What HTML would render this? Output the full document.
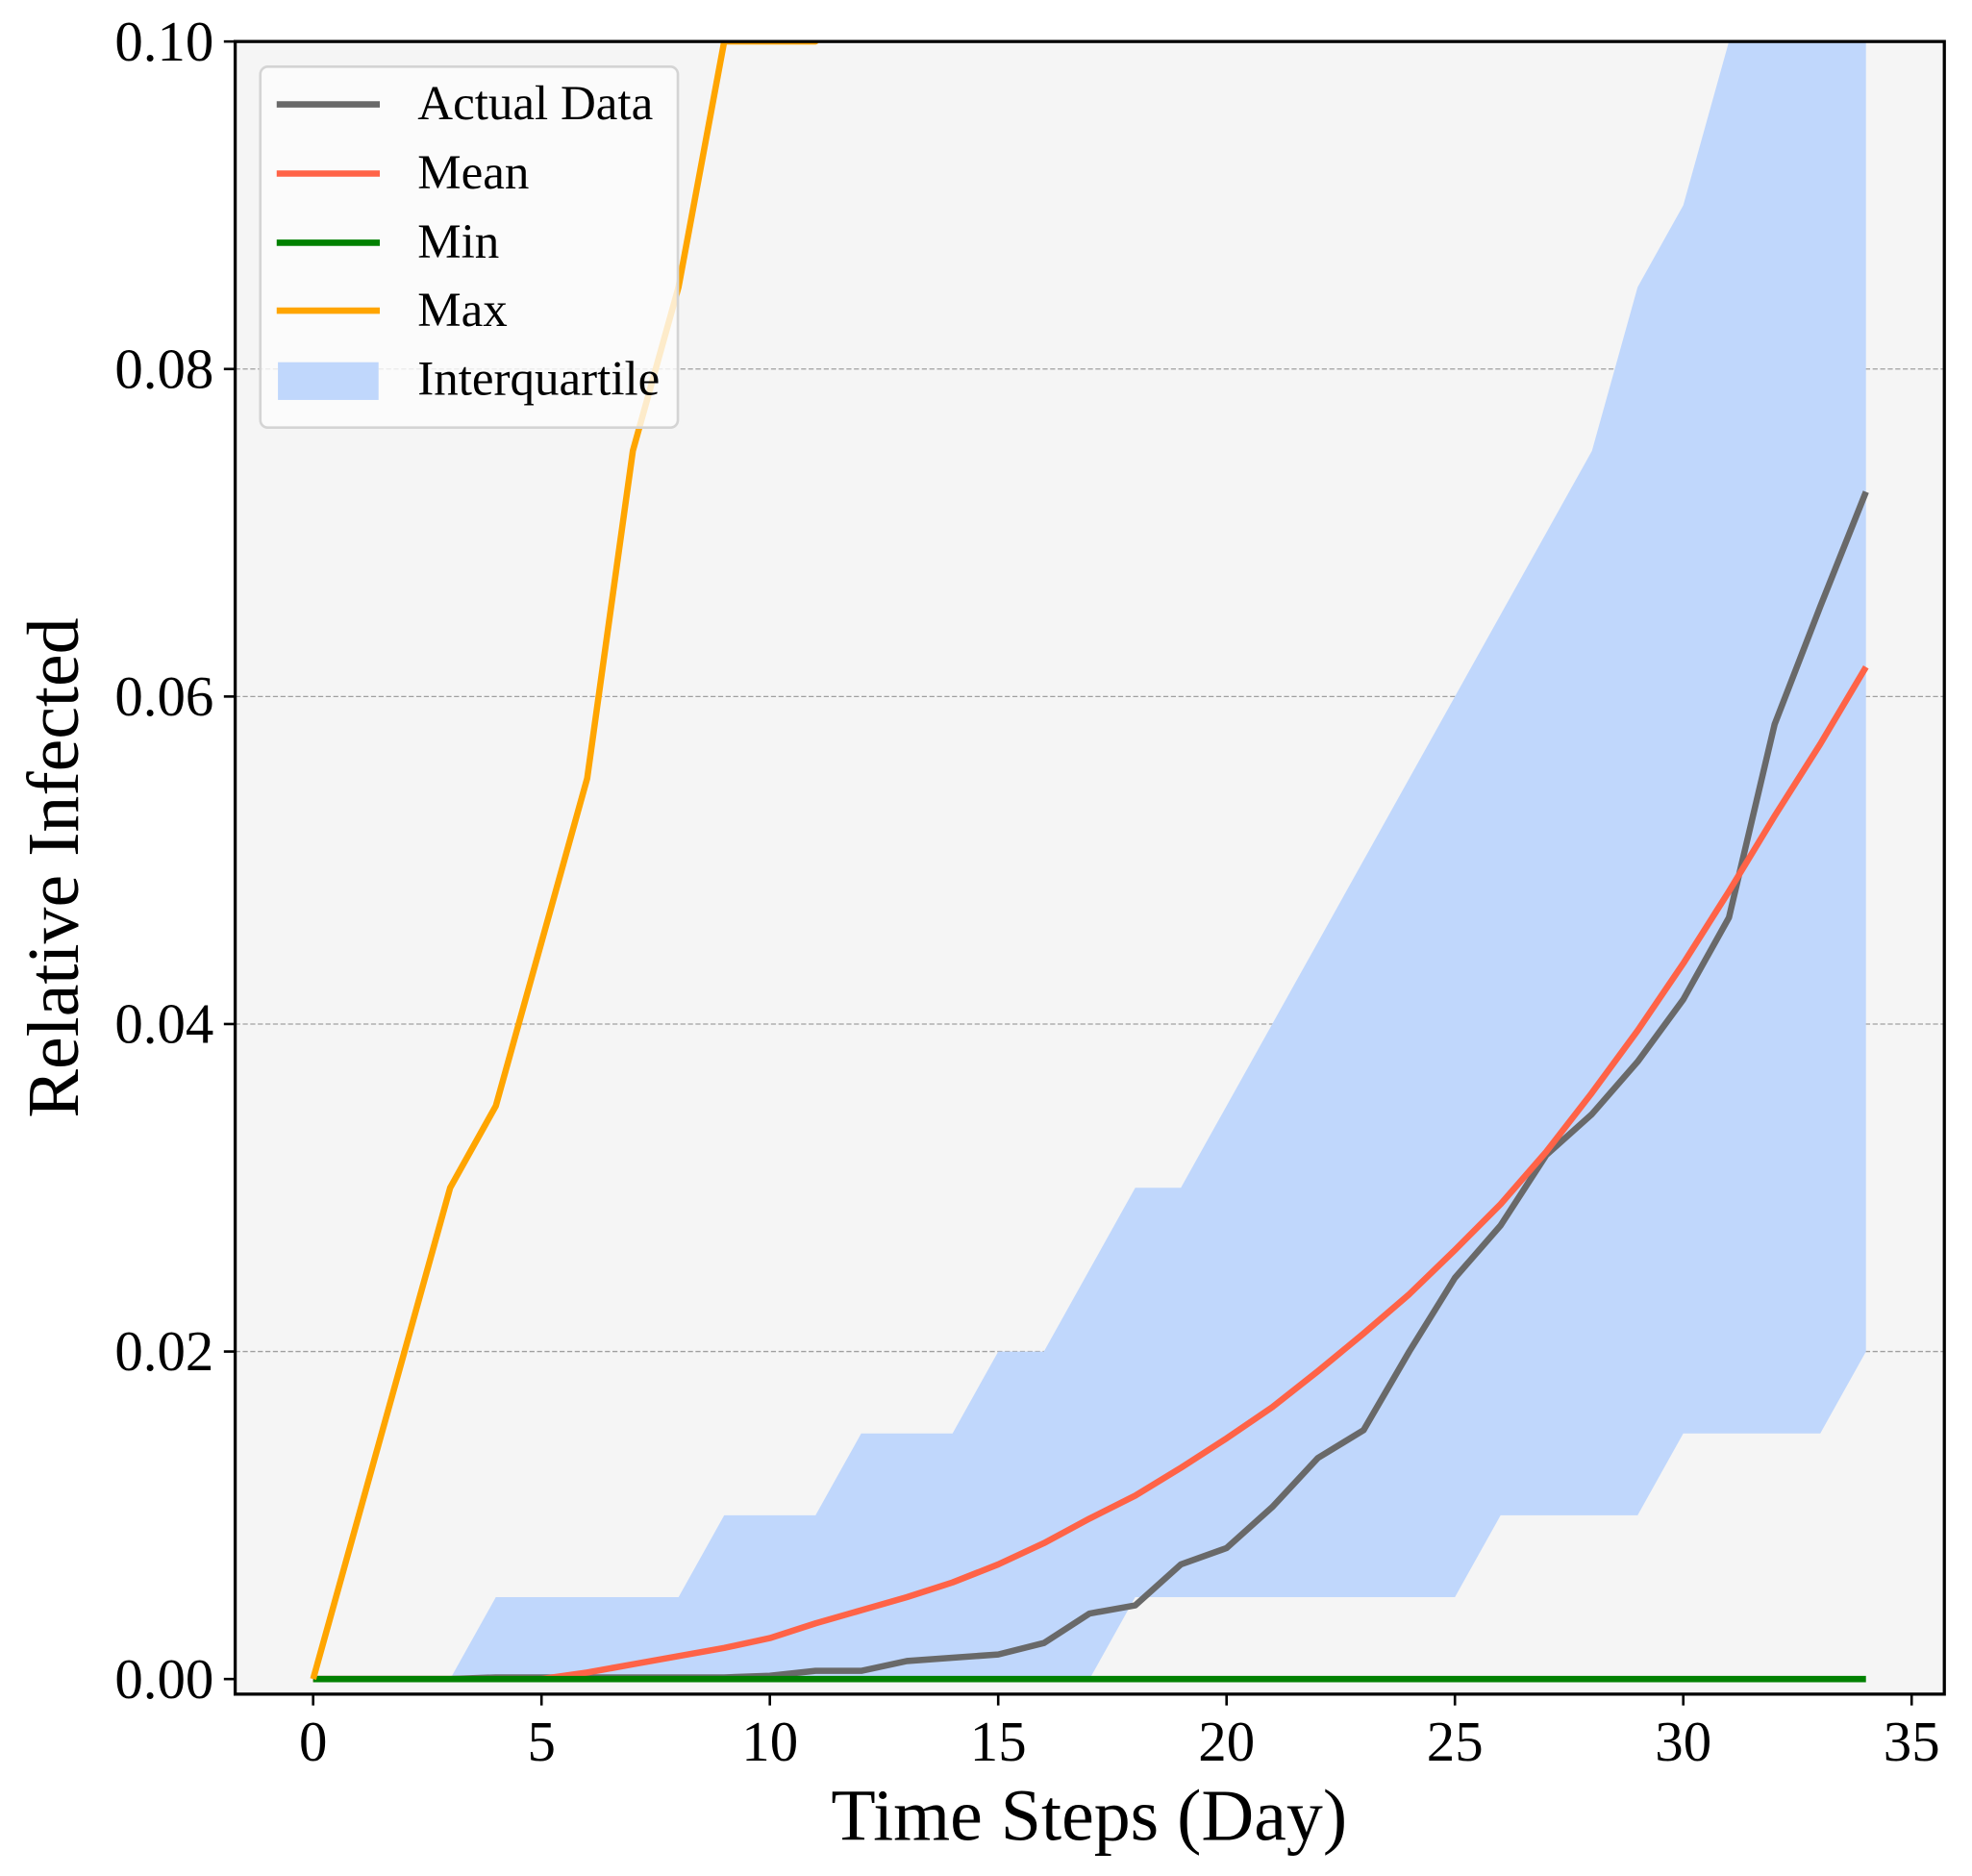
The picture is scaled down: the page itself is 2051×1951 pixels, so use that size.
<!DOCTYPE html>
<html><head><meta charset="utf-8"><style>
html,body{margin:0;padding:0;background:#fff;}
svg{display:block;font-family:"Liberation Serif","DejaVu Serif",serif;}
</style></head><body>
<svg id="chart" width="2051" height="1951" viewBox="0 0 1568 1491.6" preserveAspectRatio="none" xmlns="http://www.w3.org/2000/svg">
<defs><clipPath id="plotclip"><rect x="187" y="33" width="1359" height="1314"/></clipPath></defs>
<rect x="187" y="33" width="1359" height="1314" fill="#f5f5f5"/>
<g id="grid"></g>
<g id="series" clip-path="url(#plotclip)"></g>
<rect x="187" y="33" width="1359" height="1314" fill="none" stroke="#000" stroke-width="2.5"/>
<g id="ticks"></g>
<text x="866" y="1463" font-size="58" text-anchor="middle">Time Steps (Day)</text>
<text transform="translate(62,690) rotate(-90)" font-size="58" text-anchor="middle">Relative Infected</text>
<g>
<rect x="207" y="53" width="332" height="287" rx="6" fill="#fcfcfc" fill-opacity="0.8" stroke="#d4d4d4" stroke-width="2"/>
<g><line x1="220" y1="83" x2="302" y2="83" stroke="#696969" stroke-width="5"/><text x="332" y="95" font-size="39">Actual Data</text></g>
<g><line x1="220" y1="138" x2="302" y2="138" stroke="#ff6347" stroke-width="5"/><text x="332" y="150" font-size="39">Mean</text></g>
<g><line x1="220" y1="193" x2="302" y2="193" stroke="#008000" stroke-width="5"/><text x="332" y="205" font-size="39">Min</text></g>
<g><line x1="220" y1="247" x2="302" y2="247" stroke="#ffa500" stroke-width="5"/><text x="332" y="259" font-size="39">Max</text></g>
<g><rect x="221" y="288" width="80" height="30" fill="#c0d7fc"/><text x="332" y="314" font-size="39">Interquartile</text></g>
</g>
</svg>
<script>
const days = [0,1,2,3,4,5,6,7,8,9,10,11,12,13,14,15,16,17,18,19,20,21,22,23,24,25,26,27,28,29,30,31,32,33,34];
const actualData = [0,0,0,0,0.0001,0.0001,0.0001,0.0001,0.0001,0.0001,0.0002,0.0005,0.0005,0.0011,0.0013,0.0015,0.0022,0.004,0.0045,0.007,0.008,0.0105,0.0135,0.0152,0.02,0.0245,0.0277,0.032,0.0345,0.0377,0.0415,0.0465,0.0583,0.0655,0.0725];
const meanData = [0,0,0,0,0,0,0.0004,0.0009,0.0014,0.0019,0.0025,0.0034,0.0042,0.005,0.0059,0.007,0.0083,0.0098,0.0112,0.0129,0.0147,0.0166,0.0188,0.0211,0.0235,0.0262,0.029,0.0322,0.0358,0.0396,0.0437,0.0481,0.0527,0.0571,0.0618];
const minData = [0,0,0,0,0,0,0,0,0,0,0,0,0,0,0,0,0,0,0,0,0,0,0,0,0,0,0,0,0,0,0,0,0,0,0];
const maxData = [0,0.01,0.02,0.03,0.035,0.045,0.055,0.075,0.085,0.1,0.1,0.1,0.15,0.16,0.17,0.18,0.19,0.2,0.21,0.22,0.23,0.24,0.25,0.26,0.27,0.28,0.29,0.3,0.31,0.32,0.33,0.34,0.35,0.36,0.37];
const q1Data = [0,0,0,0,0,0,0,0,0,0,0,0,0,0,0,0,0,0,0.005,0.005,0.005,0.005,0.005,0.005,0.005,0.005,0.01,0.01,0.01,0.01,0.015,0.015,0.015,0.015,0.02];
const q3Data = [0,0,0,0,0.005,0.005,0.005,0.005,0.005,0.01,0.01,0.01,0.015,0.015,0.015,0.02,0.02,0.025,0.03,0.03,0.035,0.04,0.045,0.05,0.055,0.06,0.065,0.07,0.075,0.085,0.09,0.1,0.11,0.12,0.13];
const xTicks = [0,5,10,15,20,25,30,35];
const yTicks = [0,0.02,0.04,0.06,0.08,0.10];
const yTickLabels = ["0.00","0.02","0.04","0.06","0.08","0.10"];

const NS = "http://www.w3.org/2000/svg";
function xs(v){ return 249 + v*(1520-249)/35; }
function ys(v){ return 1335 - v*(1335-33)/0.1; }
function mk(tag, attrs, parent){ const e=document.createElementNS(NS,tag); for(const k in attrs) e.setAttribute(k,attrs[k]); parent.appendChild(e); return e; }
const grid=document.getElementById('grid'), series=document.getElementById('series'), ticks=document.getElementById('ticks');

yTicks.forEach((v,i)=>{
  if(v>0 && v<0.1){
    const g=mk('line',{x1:187,x2:1546,y1:ys(v),y2:ys(v),stroke:'#a0a0a0','stroke-width':1,'stroke-dasharray':'4,2'},grid);
    
    
  }
  const t=mk('line',{x1:178,x2:187,y1:ys(v),y2:ys(v),stroke:'#000','stroke-width':2},ticks);
  
  
  const l=mk('text',{x:170,y:ys(v)+15,'font-size':45,'text-anchor':'end'},ticks);
  l.textContent=yTickLabels[i];
  
  
});
xTicks.forEach(v=>{
  const t=mk('line',{x1:xs(v),x2:xs(v),y1:1347,y2:1356,stroke:'#000','stroke-width':2},ticks);
  
  
  const l=mk('text',{x:xs(v),y:1400,'font-size':45,'text-anchor':'middle'},ticks);
  l.textContent=String(v);
  
  
});

let d='';
days.forEach((x,i)=>{ d+=(i?'L':'M')+xs(x)+','+ys(q3Data[i]); });
for(let i=days.length-1;i>=0;i--){ d+='L'+xs(days[i])+','+ys(q1Data[i]); }
const band=mk('path',{d:d+'Z',fill:'#c0d7fc'},series);



function line(arr,color,name,w){
  const pts=days.map((x,i)=>xs(x)+','+ys(arr[i])).join(' ');
  const p=mk('polyline',{points:pts,fill:'none',stroke:color,'stroke-width':w,'stroke-linejoin':'round'},series);
  
  
}
line(actualData,'#696969','actual-data-line',5);
line(meanData,'#ff6347','mean-line',5);
line(minData,'#008000','min-line',5);
line(maxData,'#ffa500','max-line',5);
</script>
</body></html>
